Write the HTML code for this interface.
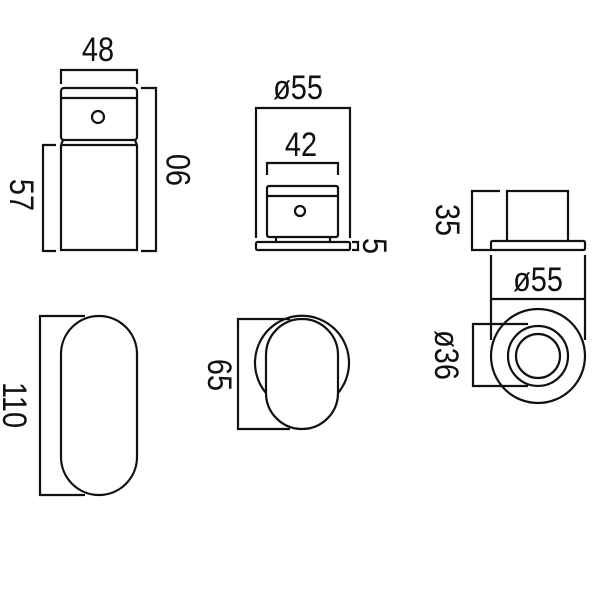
<!DOCTYPE html>
<html><head><meta charset="utf-8"><style>
html,body{margin:0;padding:0;background:#fff;width:600px;height:600px;overflow:hidden}
text{font-family:"Liberation Sans",sans-serif;font-size:34px;fill:#111}
</style></head><body>
<svg width="600" height="600" viewBox="0 0 600 600" xmlns="http://www.w3.org/2000/svg">
<g fill="none" stroke="#111" stroke-width="2.2">
<path d="M61 84 V70 H137 V84"/>
<rect x="61" y="88" width="76" height="52" rx="3"/>
<line x1="61" y1="98" x2="137" y2="98"/>
<circle cx="98" cy="117" r="6"/>
<path d="M63 140 L61 145 M135 140 L137 145"/>
<line x1="62" y1="145" x2="136" y2="145"/>
<path d="M61 145 V250 H137 V145"/>
<path d="M141 88 H156 V251 H141"/>
<path d="M56 145 H43 V251 H56"/>
<path d="M256 238 V108 H350 V238"/>
<path d="M267 175 V163 H338 V175"/>
<rect x="267" y="186" width="71" height="51" rx="2"/>
<line x1="267" y1="196" x2="338" y2="196"/>
<circle cx="300" cy="211" r="5"/>
<path d="M276 237 V242 M330 237 V242"/>
<rect x="256" y="242" width="94" height="8" rx="1.5"/>
<path d="M352 242 H358 V250 H352"/>
<path d="M500 191 H472 V250 H491"/>
<path d="M507 241 V191 H568 V241"/>
<rect x="491" y="241" width="94" height="9" rx="1.5"/>
<path d="M491 255 V340 M585 255 V340 M491 299 H585"/>
<circle cx="538" cy="356" r="47"/>
<circle cx="538" cy="356" r="30"/>
<circle cx="538" cy="356" r="22"/>
<path d="M528 324 H473 V386 H528"/>
<rect x="61" y="316" width="76" height="179" rx="38"/>
<path d="M85 316 H40 V495 H85"/>
<path d="M266 393 A47 47 0 1 1 338 393"/>
<rect x="266" y="319" width="72" height="110" rx="36" fill="#fff"/>
<path d="M290 319 H238 V429 H290"/>
</g>
<g>
<text transform="translate(98,61) scale(0.85,1)" text-anchor="middle">48</text>
<text transform="translate(298,99) scale(0.85,1)" text-anchor="middle">ø55</text>
<text transform="translate(301,156) scale(0.85,1)" text-anchor="middle">42</text>
<text transform="translate(538,291) scale(0.85,1)" text-anchor="middle">ø55</text>
<text transform="translate(178,170) rotate(-90) scale(0.85,1)" text-anchor="middle" dy="12">90</text>
<text transform="translate(22,195) rotate(90) scale(0.85,1)" text-anchor="middle" dy="12">57</text>
<text transform="translate(15,405) rotate(90) scale(0.85,1)" text-anchor="middle" dy="12">110</text>
<text transform="translate(220,375) rotate(90) scale(0.85,1)" text-anchor="middle" dy="12">65</text>
<text transform="translate(448,220) rotate(90) scale(0.85,1)" text-anchor="middle" dy="12">35</text>
<text transform="translate(447,355) rotate(90) scale(0.85,1)" text-anchor="middle" dy="12">ø36</text>
<text transform="translate(375,246) rotate(90) scale(0.85,1)" text-anchor="middle" dy="12">5</text>
</g>
</svg>
</body></html>
